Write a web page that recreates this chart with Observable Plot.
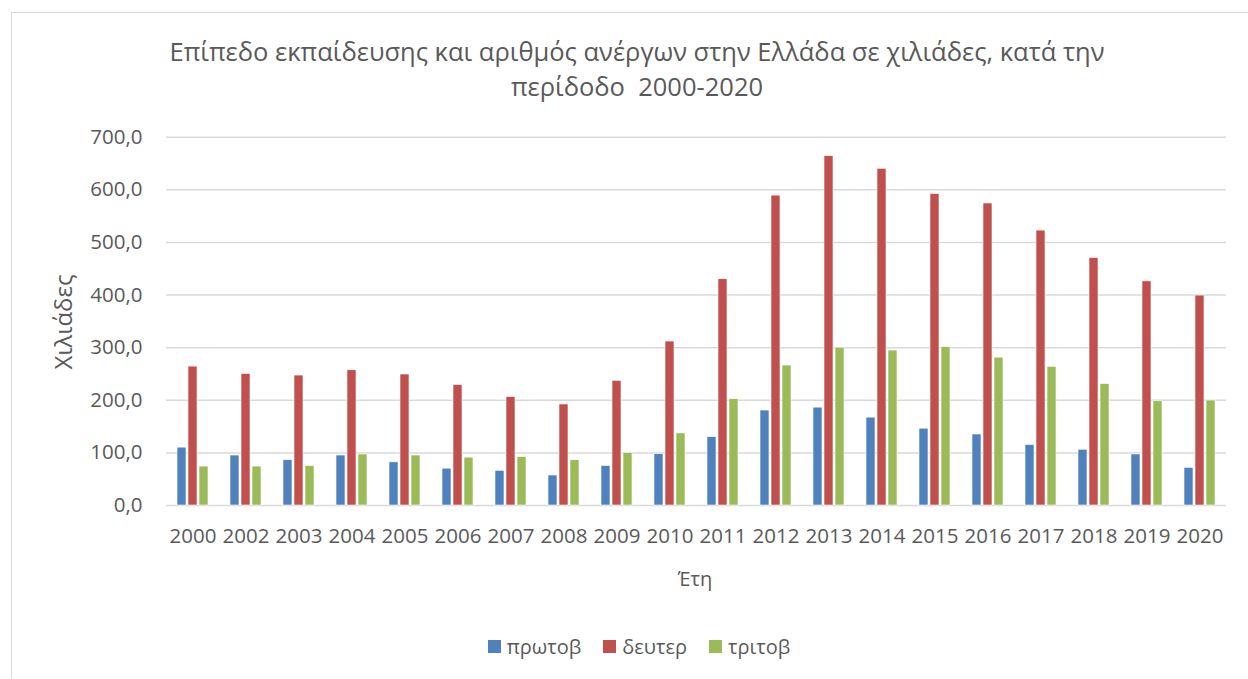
<!DOCTYPE html>
<html>
<head>
<meta charset="utf-8">
<script src="https://cdn.jsdelivr.net/npm/d3@7"></script>
<script src="https://cdn.jsdelivr.net/npm/@observablehq/plot@0.6"></script>
<style>
  html, body { margin: 0; padding: 0; background: #fff; }
  body { width: 1248px; height: 679px; position: relative; overflow: hidden; font-family: "Open Sans", sans-serif; color: #595959; }
  #frame { position: absolute; left: 11px; top: 12px; width: 1300px; height: 700px; border-left: 1.5px solid #d9d9d9; border-top: 1.5px solid #d9d9d9; }
  #title { position: absolute; left: 137px; width: 1000px; top: 34px; text-align: center; font-size: 25.5px; line-height: 35px; white-space: nowrap; }
  #chart { position: absolute; left: 0; top: 100px; }
  #ylabel { position: absolute; left: 62px; top: 322px; transform: translate(-50%, -50%) rotate(-90deg); font-size: 24px; white-space: nowrap; }
  #xlabel { position: absolute; left: 695px; top: 578px; transform: translate(-50%, -50%); font-size: 20px; }
  #legend { position: absolute; left: 0; width: 1278px; top: 633px; display: flex; justify-content: center; gap: 22px; font-size: 20px; }
  #legend .item { display: flex; align-items: center; gap: 6px; }
  #legend .sw { width: 13px; height: 13px; display: inline-block; }
</style>
</head>
<body>
<div id="frame"></div>
<div id="title">Επίπεδο εκπαίδευσης και αριθμός ανέργων στην Ελλάδα σε χιλιάδες, κατά την<br>περίδοδο&nbsp; 2000-2020</div>
<div id="chart"></div>
<div id="ylabel">Χιλιάδες</div>
<div id="xlabel">Έτη</div>
<div id="legend"></div>
<script>
const years = ["2000","2002","2003","2004","2005","2006","2007","2008","2009","2010","2011","2012","2013","2014","2015","2016","2017","2018","2019","2020"];
const seriesNames = ["πρωτοβ", "δευτερ", "τριτοβ"];
const seriesColors = ["#4f81bd", "#c0504d", "#9bbb59"];
const protov = [110, 95, 86, 95, 82, 70, 66, 57, 75, 97.5, 130, 180.5, 186, 167, 146, 135, 115, 106, 97, 71.5];
const defter = [264, 250, 247, 257, 249, 229, 206, 192, 237, 311.6, 430, 589, 664, 640, 592, 574, 522.5, 470.5, 426, 399];
const tritov = [74, 74, 75, 97, 95, 91, 92, 86, 100, 137, 202, 266, 300, 294.5, 301, 281, 263.5, 231, 198, 199.5];
const yTicks = [0, 100, 200, 300, 400, 500, 600, 700];

const seriesValues = [protov, defter, tritov];
const data = [];
years.forEach((yr, i) => {
  seriesNames.forEach((s, j) => data.push({year: yr, series: s, value: seriesValues[j][i]}));
});

const plot = Plot.plot({
  width: 1248,
  height: 500,
  marginTop: 36.7,
  marginBottom: 95,
  marginLeft: 162,
  marginRight: 18,
  style: { fontFamily: "Open Sans, sans-serif", fontSize: "20.5px", color: "#595959", background: "transparent" },
  fx: { domain: years, padding: 0, label: null, tickSize: 0, tickPadding: 23 },
  x: { domain: seriesNames, axis: null, paddingInner: 0.18, paddingOuter: 0.8 },
  y: { domain: [0, 700], ticks: yTicks, tickFormat: d => d.toFixed(1).replace(".", ","), tickSize: 0, tickPadding: 24, label: null },
  color: { domain: seriesNames, range: seriesColors },
  marks: [
    Plot.gridY(yTicks, { stroke: "#d9d9d9", strokeOpacity: 1, strokeWidth: 1.5 }),
    Plot.barY(data, { fx: "year", x: "series", y: "value", fill: "series", stroke: "white", strokeWidth: 0.6 })
  ]
});
document.getElementById("chart").appendChild(plot);

const legend = document.getElementById("legend");
seriesNames.forEach((s, j) => {
  const item = document.createElement("div");
  item.className = "item";
  const sw = document.createElement("span");
  sw.className = "sw";
  sw.style.background = seriesColors[j];
  const t = document.createElement("span");
  t.textContent = s;
  item.appendChild(sw);
  item.appendChild(t);
  legend.appendChild(item);
});
</script>
</body>
</html>
